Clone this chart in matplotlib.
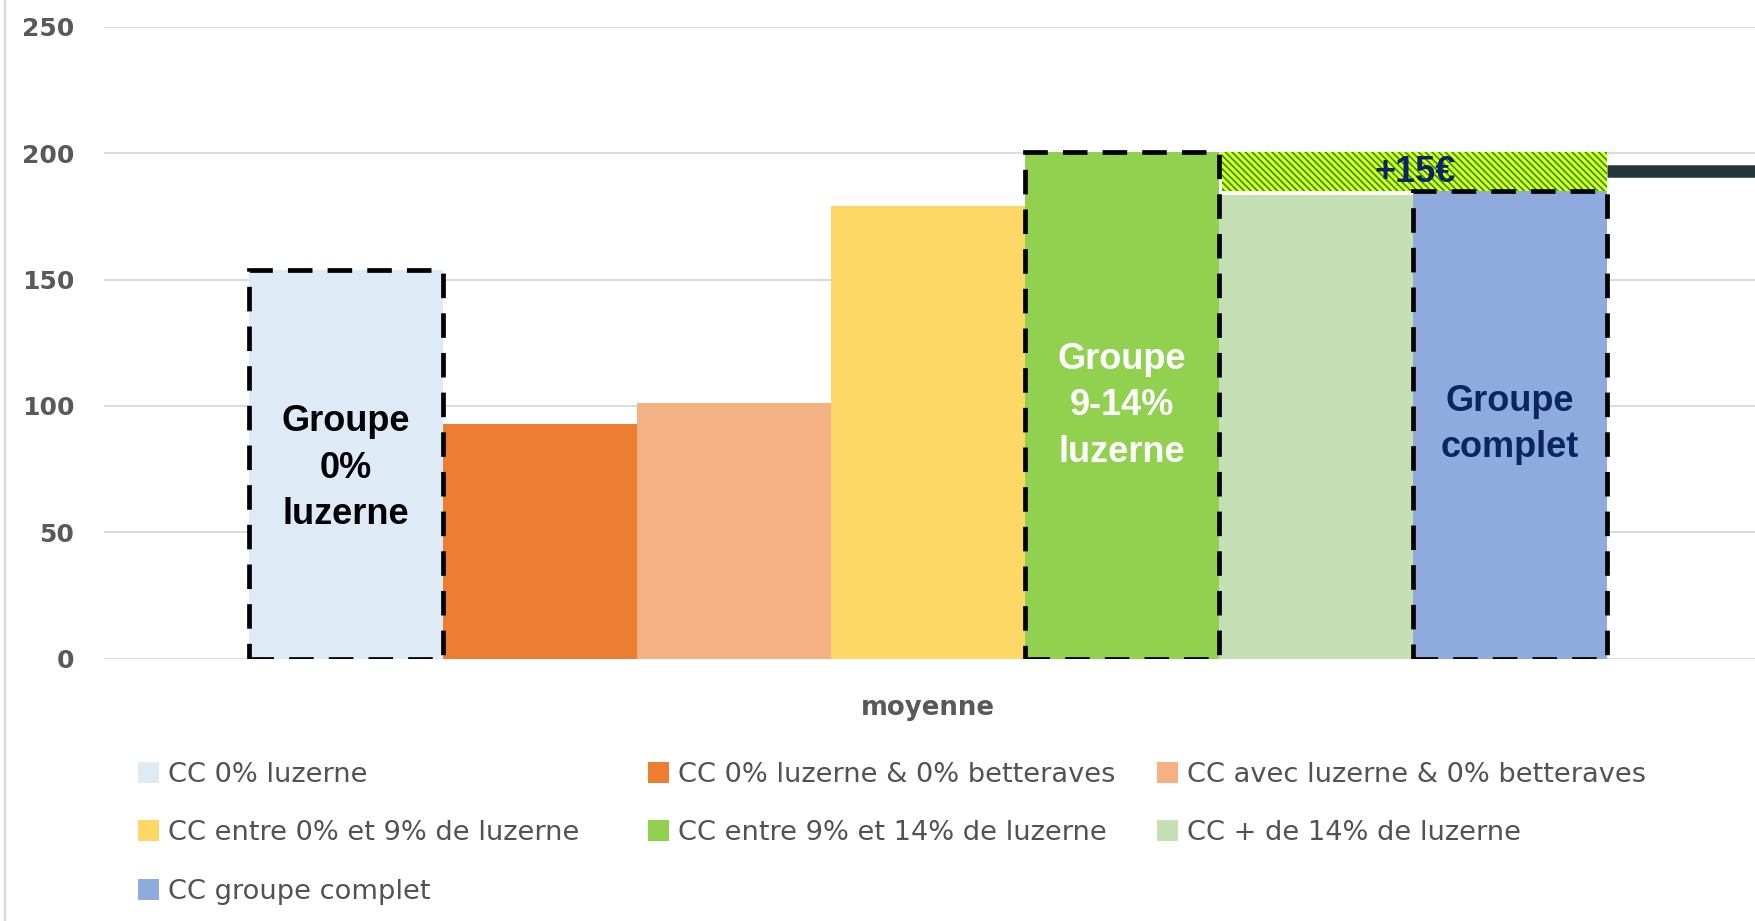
import matplotlib
matplotlib.use('Agg')
import matplotlib.pyplot as plt
from matplotlib.patches import Rectangle
from matplotlib.lines import Line2D

# ---------------- data ----------------
categories = ['moyenne']
series_labels = ['CC 0% luzerne', 'CC 0% luzerne & 0% betteraves', 'CC avec luzerne & 0% betteraves',
                 'CC entre 0% et 9% de luzerne', 'CC entre 9% et 14% de luzerne',
                 'CC + de 14% de luzerne', 'CC groupe complet']
values = [154, 93, 101, 179, 200.5, 183.5, 185]
colors = ['#deeaf6', '#ed7d31', '#f4b183', '#fed866', '#92d050', '#c5e0b4', '#8faadc']
yticks = [0, 50, 100, 150, 200, 250]
boxed = [0, 4, 6]
group_texts = ['Groupe\n0%\nluzerne', 'Groupe\n9-14%\nluzerne', 'Groupe\ncomplet']
group_text_colors = ['black', 'white', '#0c2461']
group_text_levels = [53.3, 78.0, 79.8]
gain_text = '+15€'
gain_from, gain_to = 6, 4          # hatched gain band: blue top -> green top
marker_level = 193                 # dark reference line on the right

# ---------------- figure ----------------
W, H = 1756, 921
fig = plt.figure(figsize=(W / 100, H / 100), dpi=100)
y0_px, y250_px = 658.6, 27.0
ax = fig.add_axes([104 / W, (H - y0_px) / H, (W - 104) / W, (y0_px - y250_px) / H])

bw = 194.1 / (W - 104)
center_px = 927.9
ax.set_xlim(-(center_px - 104) / (W - 104), (W - center_px) / (W - 104))
ax.set_ylim(0, 250)

n = len(values)
xs = [(i - (n - 1) / 2) * bw for i in range(n)]
bars = ax.bar(xs, values, width=bw, color=colors, label=series_labels, zorder=2, linewidth=0)

# dashed outlines
for i in boxed:
    r = bars[i]
    ax.add_patch(Rectangle((r.get_x(), 0), r.get_width(), r.get_height(), fill=False,
                           edgecolor='black', linewidth=3.4, linestyle=(0, (5.2, 3.2)), zorder=5))

# hatched gain band
plt.rcParams['hatch.linewidth'] = 1.3
left = bars[5].get_x() + 0.002
right = bars[6].get_x() + bars[6].get_width()
ax.add_patch(Rectangle((left, values[gain_from]), right - left, values[gain_to] - values[gain_from],
                       facecolor='#ffff00', edgecolor='#00a651', hatch='\\\\\\\\\\', linewidth=0, zorder=3))
ax.text((left + right) / 2, 188.6, gain_text, ha='center', va='baseline', fontsize=26,
        fontweight='bold', family='Liberation Sans', color='#0c2461', zorder=6)

# dark line on the right
ax.plot([right, ax.get_xlim()[1]], [marker_level, marker_level], color='#22363c', lw=9,
        solid_capstyle='butt', zorder=4)

# group labels
for i, t, c, lv in zip(boxed, group_texts, group_text_colors, group_text_levels):
    ax.text(xs[i], lv, t, ha='center', va='baseline', multialignment='center', fontsize=26,
            fontweight='bold', family='Liberation Sans', color=c, linespacing=1.42, zorder=6)

# axes styling
ax.set_yticks(yticks)
ax.set_yticklabels([str(v) for v in yticks], fontsize=18, fontweight='bold',
                   family='DejaVu Sans', color='#595959')
ax.tick_params(axis='y', length=0, pad=21.5)
ax.set_xticks([0])
ax.set_xticklabels(categories, fontsize=18.7, fontweight='bold', family='DejaVu Sans', color='#595959')
ax.tick_params(axis='x', length=0, pad=26)
ax.yaxis.grid(True, color='#d9d9d9', linewidth=1.3)
ax.set_axisbelow(True)
for s in ax.spines.values():
    s.set_visible(False)

# left border of chart area
fig.add_artist(Line2D([5 / W, 5 / W], [0, 1], color='#d9d9d9', linewidth=1.6))

# legend (row-major, 3 columns)
col_x = [138, 648, 1157]
row_y = [772, 830, 889]
sq = 21
for i, (lab, c) in enumerate(zip(series_labels, colors)):
    r, cidx = divmod(i, 3)
    mx, my = col_x[cidx], row_y[r]
    fig.add_artist(Rectangle((mx / W, (H - my - sq / 2) / H), sq / W, sq / H,
                             transform=fig.transFigure, facecolor=c, edgecolor='none'))
    fig.text((mx + 30) / W, (H - my - 10) / H, lab, ha='left', va='baseline', fontsize=19.6,
             family='DejaVu Sans', color='#525252')

fig.savefig('out.png', dpi=100)
